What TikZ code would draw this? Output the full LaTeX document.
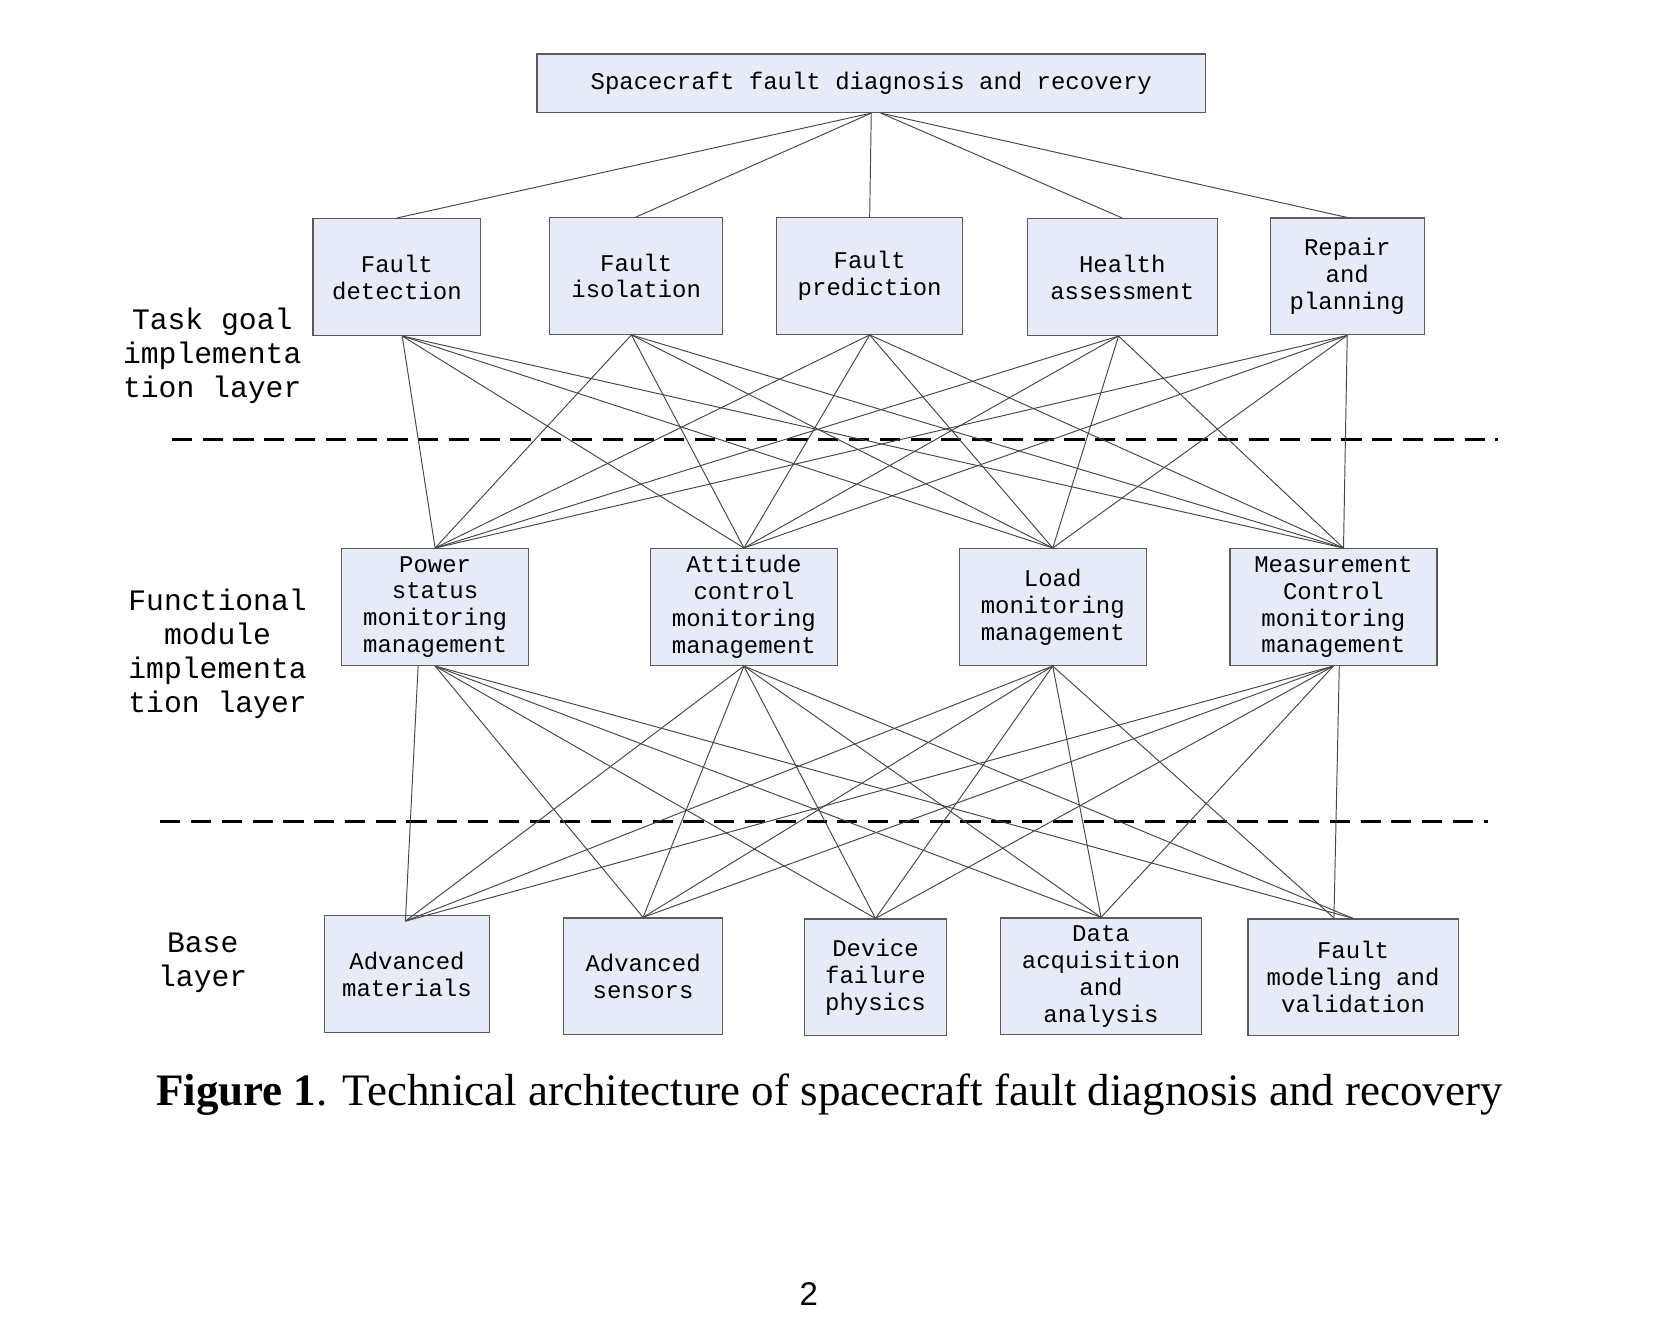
\documentclass[tikz,border=0pt]{standalone}
\usepackage{fontspec}
\setmainfont{Liberation Serif}
\setmonofont{Liberation Mono}
\newfontfamily\pagefont{Liberation Sans}
\definecolor{boxfill}{RGB}{230,235,247}
\definecolor{boxline}{RGB}{90,90,90}
\definecolor{linkcol}{RGB}{70,70,70}
\tikzset{
  stepbox/.style={draw=boxline, line width=0.6pt, fill=boxfill, rectangle, inner sep=0pt,
    minimum height=55pt, align=center, font=\ttfamily\fontsize{11.3}{12.7}\selectfont},
  link/.style={draw=linkcol, line width=0.45pt},
  sepline/.style={draw=black, line width=1.2pt, dash pattern=on 9.5pt off 5pt},
  layerlabel/.style={align=center, inner sep=0pt, font=\ttfamily\fontsize{14}{16}\selectfont}
}
\begin{document}
\begin{tikzpicture}[x=0.5pt,y=-0.5pt]
\useasboundingbox (0,0) rectangle (1568,1265);
% top
\node[stepbox, minimum width=315pt, minimum height=27.5pt] (top) at (821,78.5) {Spacecraft fault diagnosis and recovery};
% task layer
\node[stepbox, minimum width=79pt] (det) at (374,261) {Fault\\detection};
\node[stepbox, minimum width=81.5pt] (iso) at (599.5,260) {Fault\\isolation};
\node[stepbox, minimum width=87.5pt] (pred) at (819.5,260) {Fault\\prediction};
\node[stepbox, minimum width=89.5pt] (health) at (1057.5,261) {Health\\assessment};
\node[stepbox, minimum width=72.5pt] (repair) at (1269.5,260.5) {Repair\\and\\planning};
% functional layer
\node[stepbox, minimum width=88pt] (power) at (410,572) {Power\\status\\monitoring\\management};
\node[stepbox, minimum width=88pt] (att) at (701,572) {Attitude\\control\\monitoring\\management};
\node[stepbox, minimum width=88pt] (load) at (992,572) {Load\\monitoring\\management};
\node[stepbox, minimum width=97.5pt] (meas) at (1256.5,572) {Measurement\\Control\\monitoring\\management};
% base layer
\node[stepbox, minimum width=77.5pt] (mat) at (383.5,918) {Advanced\\materials};
\node[stepbox, minimum width=75pt] (sens) at (606,920) {Advanced\\sensors};
\node[stepbox, minimum width=67pt] (dev) at (825,921) {Device\\failure\\physics};
\node[stepbox, minimum width=94.5pt] (data) at (1037.5,920) {Data\\acquisition\\and\\analysis};
\node[stepbox, minimum width=99pt] (model) at (1275,921) {Fault\\modeling and\\validation};
% layer labels
\node[layerlabel] (lab1) at (200,335) {Task goal\\implementa\\tion layer};
\node[layerlabel] (lab2) at (205,616) {Functional\\module\\implementa\\tion layer};
\node[layerlabel] (lab3) at (191,907) {Base\\layer};
% separators
\coordinate (s1a) at (162,414); \coordinate (s1b) at (1412,414);
\coordinate (s2a) at (151,774); \coordinate (s2b) at (1402,774);
\draw[sepline] (s1a) -- (s1b);
\draw[sepline] (s2a) -- (s2b);
% top links
\foreach \t in {det,iso,pred} \draw[link] (top.south) -- (\t.north);
\foreach \t in {health,repair} \draw[link] ([xshift=4.5pt]top.south) -- (\t.north);
% task -> functional
\foreach \t/\ts in {det/2.5, iso/-2.25, pred/0, health/-1.75, repair/0}
  \foreach \f/\fs in {power/0, att/0, load/0, meas/4.75}
    \draw[link] ([xshift=\ts pt]\t.south) -- ([xshift=\fs pt]\f.north);
% functional -> base
\foreach \f in {power,att,load,meas}
  \foreach \b in {sens,dev,data}
    \draw[link] (\f.south) -- (\b.north);
\coordinate (matpt) at (382,868);
\coordinate (modpt) at (1257,865);
\draw[link] ([xshift=-8pt]power.south) -- (matpt);
\foreach \f in {att,load,meas} \draw[link] (\f.south) -- (matpt);
\foreach \f in {power,att} \draw[link] (\f.south) -- (model.north);
\draw[link] (load.south) -- (modpt);
\draw[link] ([xshift=2.75pt]meas.south) -- (modpt);
% caption
\node[inner sep=0pt, font=\fontsize{21.2}{25}\selectfont] (cap) at (781.5,1031) {\textbf{Figure 1}. Technical architecture of spacecraft fault diagnosis and recovery};
\node[inner sep=0pt, font=\pagefont\fontsize{15.5}{18}\selectfont] (pg) at (762,1219) {2};
\end{tikzpicture}
\end{document}
